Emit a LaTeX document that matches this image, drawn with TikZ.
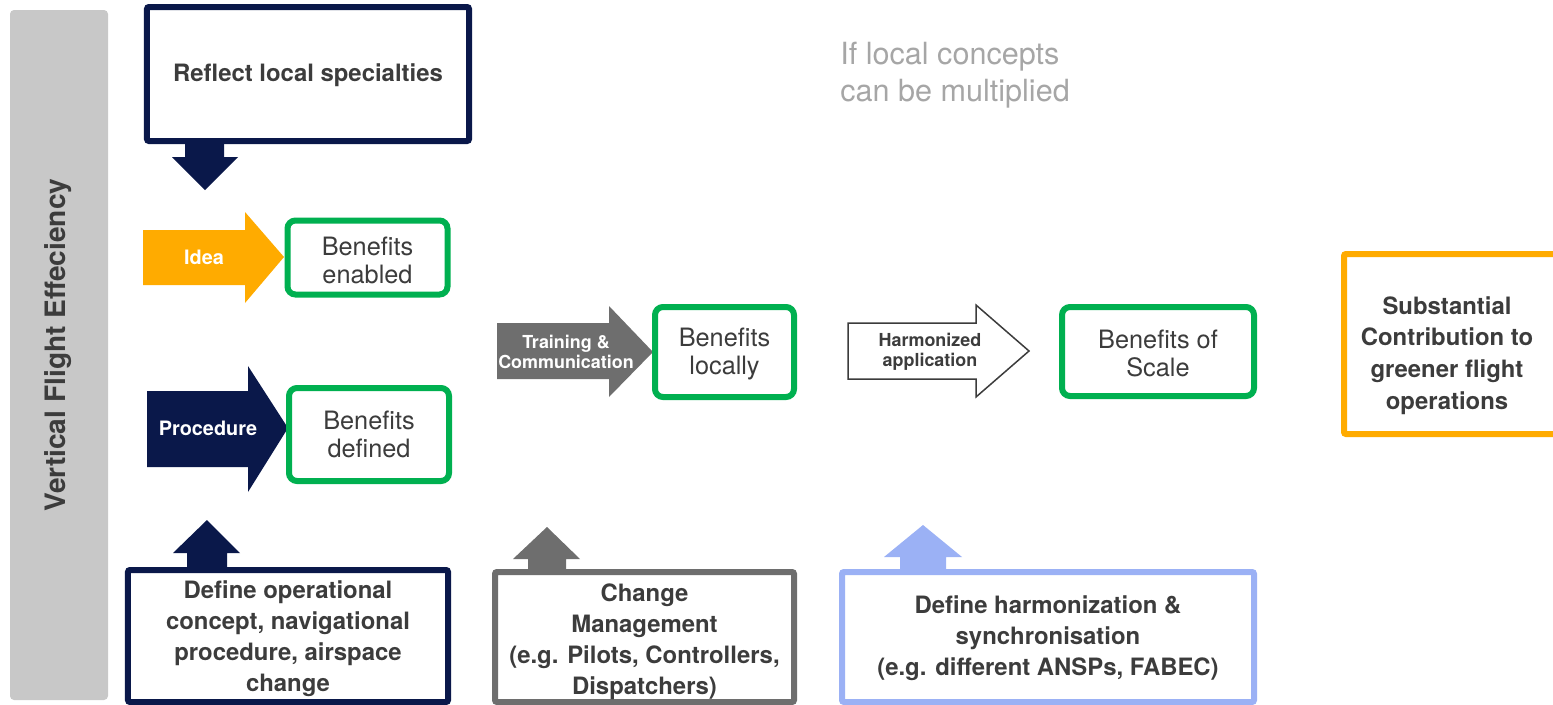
\documentclass[tikz,border=0pt]{standalone}
\usepackage{fontspec}
\setmainfont{TeX Gyre Heros}
\definecolor{navy}{RGB}{10,24,74}
\definecolor{amber}{RGB}{255,171,0}
\definecolor{leaf}{RGB}{0,176,80}
\definecolor{slate}{RGB}{110,110,110}
\definecolor{sky}{RGB}{155,177,245}
\definecolor{bar}{RGB}{200,200,200}
\definecolor{ink}{RGB}{60,60,60}
\definecolor{faint}{RGB}{166,166,166}
\begin{document}
\begin{tikzpicture}[x=0.2mm, y=-0.2mm,
  frame/.style={draw, line width=1.2mm, fill=white, inner sep=0pt},
  heavy/.style={font=\bfseries\fontsize{13.6}{17.6}\selectfont, text=ink, align=center},
  light/.style={font=\fontsize{14.4}{16.2}\selectfont, text=ink, align=center},
  tag/.style={font=\bfseries\fontsize{11.3}{13}\selectfont, text=white, align=center},
  small/.style={font=\bfseries\fontsize{10.2}{11.6}\selectfont, align=center}]
  \useasboundingbox (0,0) rectangle (1553,705);
  % side bar
  \fill[bar, rounded corners=0.8mm] (10,10) rectangle (108,700);
  \node[rotate=90, font=\bfseries\fontsize{16}{18}\selectfont, text=ink] (vfe) at (58,345) {Vertical Flight Effeciency};
  % block arrows
  \fill[navy] (185,144) -- (224,144) -- (224,157) -- (238,157) -- (205,190) -- (172,157) -- (185,157) -- cycle;
  \fill[amber] (143,230) -- (245,230) -- (245,212) -- (284,257) -- (245,303) -- (245,285) -- (143,285) -- cycle;
  \node[tag] (idea) at (204,257) {Idea};
  \fill[navy] (147,391) -- (248,391) -- (248,366) -- (288,428) -- (248,492) -- (248,467) -- (147,467) -- cycle;
  \node[tag] (proc) at (208,428) {Procedure};
  \fill[navy] (187,570) -- (187,553) -- (173,553) -- (207,520) -- (240,553) -- (227,553) -- (227,570) -- cycle;
  \fill[slate] (497,323) -- (609,323) -- (609,306) -- (653,352) -- (609,397) -- (609,379) -- (497,379) -- cycle;
  \node[small, text=white] (train) at (566,352) {Training \&\\Communication};
  \fill[slate] (528,572) -- (528,559) -- (513,559) -- (547,527) -- (580,559) -- (566,559) -- (566,572) -- cycle;
  \draw[line width=0.3mm, fill=white, draw=ink] (848,323) -- (976,323) -- (976,305) -- (1029,351) -- (976,397) -- (976,379) -- (848,379) -- cycle;
  \node[small, text=ink] (harm) at (930,352) {Harmonized\\application};
  \fill[sky] (900,572) -- (900,557) -- (884,557) -- (923,525) -- (962,557) -- (946,557) -- (946,572) -- cycle;
  % boxes
  \node[frame, draw=navy, rounded corners=0.4mm, minimum width=64.4mm, minimum height=26.8mm] (reflect) at (308,74) {};
  \node[heavy] (reflecttxt) at (308,75) {Reflect local specialties};
  \node[frame, draw=leaf, rounded corners=1.6mm, minimum width=32mm, minimum height=14.8mm] (enabled) at (367.5,257.5) {};
  \node[light] (enabledtxt) at (367.5,260.5) {Benefits\\enabled};
  \node[frame, draw=leaf, rounded corners=1.6mm, minimum width=32mm, minimum height=18.6mm] (defined) at (369,434.5) {};
  \node[light] (definedtxt) at (369,434.5) {Benefits\\defined};
  \node[frame, draw=leaf, rounded corners=1.6mm, minimum width=27.8mm, minimum height=18mm] (locally) at (724.5,352) {};
  \node[light] (locallytxt) at (724.5,354) {Benefits\\locally};
  \node[frame, draw=leaf, rounded corners=1.6mm, minimum width=38.4mm, minimum height=17.8mm] (scale) at (1158,351.5) {};
  \node[light] (scaletxt) at (1158,353.5) {Benefits of\\Scale};
  \node[frame, draw=amber, rounded corners=0.4mm, minimum width=43.2mm, minimum height=36mm] (goal) at (1452,344) {};
  \node[heavy, font=\bfseries\fontsize{13.6}{18}\selectfont] (goaltxt) at (1447,355.5) {Substantial\\Contribution to\\greener flight\\operations};
  \node[frame, draw=navy, rounded corners=0.4mm, minimum width=64mm, minimum height=26.4mm] (concept) at (288,636) {};
  \node[heavy] (concepttxt) at (288,639) {Define operational\\concept, navigational\\procedure, airspace\\change};
  \node[frame, draw=slate, rounded corners=0.4mm, minimum width=59.8mm, minimum height=26mm] (change) at (644.5,637) {};
  \node[heavy] (changetxt) at (644.5,642) {Change\\Management\\(e.g. Pilots, Controllers,\\Dispatchers)};
  \node[frame, draw=sky, rounded corners=0.4mm, minimum width=82.4mm, minimum height=26mm] (harmon) at (1048,637) {};
  \node[heavy] (harmontxt) at (1048,638.5) {Define harmonization \&\\synchronisation\\(e.g. different ANSPs, FABEC)};
  % note
  \node[anchor=north west, inner sep=0pt, align=left, text=faint, font=\fontsize{17.4}{21}\selectfont] (note) at (840,42) {If local concepts\\can be multiplied};
\end{tikzpicture}
\end{document}
